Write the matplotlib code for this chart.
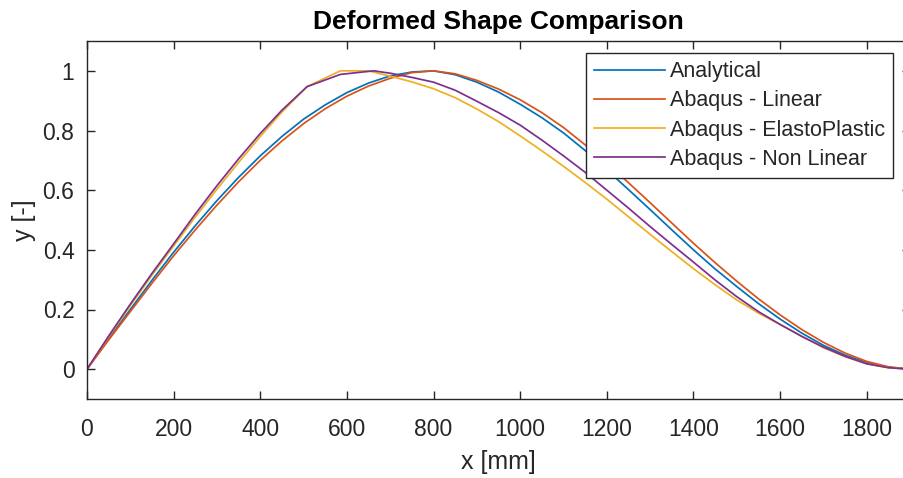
import matplotlib
matplotlib.use("Agg")
import matplotlib.pyplot as plt

plt.rcParams['font.family'] = ['Liberation Sans', 'DejaVu Sans']

# Normalised deflection y [-] along the beam x [mm]
x_analytical = [0, 50, 100, 150, 200, 250, 300, 350, 400, 450, 500, 550, 600, 650, 700,
                750, 800, 850, 900, 950, 1000, 1050, 1100, 1150, 1200, 1250, 1300, 1350,
                1400, 1450, 1500, 1550, 1600, 1650, 1700, 1750, 1800, 1850, 1900]
y_analytical = [0, 0.102, 0.200, 0.298, 0.392, 0.481, 0.565, 0.643, 0.715, 0.780, 0.838,
                0.886, 0.927, 0.959, 0.983, 0.996, 1.0, 0.987, 0.962, 0.929, 0.888, 0.843,
                0.792, 0.733, 0.668, 0.602, 0.535, 0.467, 0.400, 0.336, 0.277, 0.220,
                0.168, 0.121, 0.080, 0.047, 0.022, 0.006, 0]

x_linear = [0, 50, 100, 150, 200, 250, 300, 350, 400, 450, 500, 550, 600, 650, 700,
            750, 800, 850, 900, 950, 1000, 1050, 1100, 1150, 1200, 1250, 1300, 1350,
            1400, 1450, 1500, 1550, 1600, 1650, 1700, 1750, 1800, 1850, 1900]
y_linear = [0, 0.098, 0.193, 0.288, 0.380, 0.467, 0.550, 0.628, 0.700, 0.765, 0.823,
            0.873, 0.915, 0.949, 0.975, 0.994, 1.0, 0.990, 0.968, 0.939, 0.903, 0.860,
            0.810, 0.752, 0.690, 0.625, 0.558, 0.490, 0.422, 0.357, 0.295, 0.236,
            0.182, 0.133, 0.090, 0.054, 0.026, 0.008, 0]

x_elastoplastic = [0, 50, 100, 150, 200, 250, 300, 350, 400, 450, 508, 585, 650, 700,
                   750, 800, 850, 900, 950, 1000, 1050, 1100, 1150, 1200, 1250, 1300, 1350,
                   1400, 1450, 1500, 1550, 1600, 1650, 1700, 1750, 1800, 1850, 1900]
y_elastoplastic = [0, 0.109, 0.213, 0.315, 0.413, 0.510, 0.603, 0.693, 0.780, 0.862, 0.947,
                   1.0, 1.0, 0.982, 0.963, 0.940, 0.910, 0.872, 0.830, 0.782, 0.732, 0.680,
                   0.626, 0.570, 0.511, 0.452, 0.394, 0.337, 0.283, 0.232, 0.188, 0.150,
                   0.110, 0.072, 0.042, 0.018, 0.005, 0]

x_nonlinear = [0, 50, 100, 150, 200, 250, 300, 350, 400, 450, 508, 585, 662, 700,
               750, 800, 850, 900, 950, 1000, 1050, 1100, 1150, 1200, 1250, 1300, 1350,
               1400, 1450, 1500, 1550, 1600, 1650, 1700, 1750, 1800, 1850, 1900]
y_nonlinear = [0, 0.111, 0.218, 0.321, 0.420, 0.520, 0.615, 0.705, 0.790, 0.868, 0.947,
               0.988, 1.0, 0.992, 0.978, 0.962, 0.935, 0.898, 0.860, 0.818, 0.768, 0.715,
               0.660, 0.600, 0.540, 0.478, 0.418, 0.359, 0.299, 0.243, 0.193, 0.150,
               0.110, 0.074, 0.043, 0.018, 0.005, 0]

labels = ["Analytical", "Abaqus - Linear", "Abaqus - ElastoPlastic", "Abaqus - Non Linear"]
colors = ["#0072BD", "#D95319", "#EDB120", "#7E2F8E"]

x_ticks = list(range(0, 2000, 200))
y_ticks = [0, 0.2, 0.4, 0.6, 0.8, 1.0]
y_ticklabels = ["0", "0.2", "0.4", "0.6", "0.8", "1"]

W, H = 904, 478
fig = plt.figure(figsize=(W / 100, H / 100), dpi=100)
ax = fig.add_axes([87 / W, (H - 399) / H, (910 - 87) / W, (399 - 41) / H])

series = [(x_analytical, y_analytical), (x_linear, y_linear),
          (x_elastoplastic, y_elastoplastic), (x_nonlinear, y_nonlinear)]
for (xs, ys), lab, col in zip(series, labels, colors):
    ax.plot(xs, ys, color=col, lw=1.25, label=lab)

ax.set_xlim(0, 1900)
ax.set_ylim(-0.1, 1.1)
ax.set_xticks(x_ticks)
ax.set_yticks(y_ticks)
ax.set_yticklabels(y_ticklabels)

edge = "#262626"
for s in ax.spines.values():
    s.set_color(edge)
    s.set_linewidth(1.0)
ax.tick_params(direction="in", top=True, right=True, length=6, width=1.0,
               colors=edge, labelsize=16.5, labelcolor=edge)
ax.tick_params(axis="x", pad=14)
ax.tick_params(axis="y", pad=9)

ax.set_title("Deformed Shape Comparison", fontsize=19, fontweight="bold", pad=9, color="black")
ax.set_xlabel("x [mm]", fontsize=18, color=edge, labelpad=6)
ax.set_ylabel("y [-]", fontsize=18, color=edge, labelpad=5)

leg = ax.legend(loc="upper right", bbox_to_anchor=((893 - 87) / 823, (399 - 53) / 358),
                borderaxespad=0, fontsize=15.5, frameon=True, fancybox=False,
                handlelength=3.3, handletextpad=0.2, labelspacing=0.38,
                borderpad=0.38, edgecolor=edge)
leg.get_frame().set_linewidth(1.0)
leg.get_frame().set_alpha(1)
for t in leg.get_texts():
    t.set_color(edge)

fig.savefig("out.png", dpi=100)
